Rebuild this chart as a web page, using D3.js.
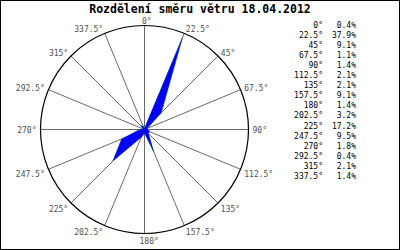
<!DOCTYPE html>
<html><head><meta charset="utf-8">
<script src="https://cdn.jsdelivr.net/npm/d3@7"></script>
<style>body{margin:0;background:#fff}svg{display:block}</style>
</head><body>
<script>
const title = "Rozdělení směru větru 18.04.2012";
const directions = [0, 22.5, 45, 67.5, 90, 112.5, 135, 157.5, 180, 202.5, 225, 247.5, 270, 292.5, 315, 337.5];
const directionLabels = ["0°","22.5°","45°","67.5°","90°","112.5°","135°","157.5°","180°","202.5°","225°","247.5°","270°","292.5°","315°","337.5°"];
const percents = [0.4, 37.9, 9.1, 1.1, 1.4, 2.1, 2.1, 9.1, 1.4, 3.2, 17.2, 9.5, 1.8, 0.4, 2.1, 1.4];
const scaleMax = 40;

const W = 400, H = 250;
const cx = 144.5, cy = 129.5, R = 104;
const mono = "'DejaVu Sans Mono', 'Liberation Mono', monospace";

const svg = d3.select("body").append("svg").attr("width", W).attr("height", H);
svg.append("rect").attr("x", 0.5).attr("y", 0.5).attr("width", W - 1).attr("height", H - 1)
  .attr("fill", "#fff").attr("stroke", "#000").attr("stroke-width", 1);

svg.append("text").attr("x", 200).attr("y", 13).attr("text-anchor", "middle")
  .attr("font-family", mono).attr("font-weight", "bold").attr("font-size", "11.5px")
  .attr("fill", "#000").text(title);

const rad = d => d * Math.PI / 180;
const r = d3.scaleLinear().domain([0, scaleMax]).range([0, R]);
const g = svg.append("g").attr("transform", `translate(${cx},${cy})`);

// spokes
g.selectAll("line.spoke").data(directions).join("line")
  .attr("x1", 0).attr("y1", 0)
  .attr("x2", d => d3.pointRadial(rad(d), R)[0])
  .attr("y2", d => d3.pointRadial(rad(d), R)[1])
  .attr("stroke", "#6a6a6a").attr("stroke-width", 1);

// rose polygon
const pts = directions.map((d, i) => ({a: rad(d), v: percents[i]}));
const radial = d3.lineRadial().angle(d => d.a).radius(d => r(d.v)).curve(d3.curveLinearClosed);
g.append("path").attr("d", radial(pts)).attr("fill", "none").attr("stroke", "#00cc00").attr("stroke-width", 0.5);
g.append("path").attr("d", radial(pts)).attr("fill", "#0000ff").attr("stroke", "#0000ff").attr("stroke-width", 0.3);

// circle
g.append("circle").attr("r", R).attr("fill", "none").attr("stroke", "#000").attr("stroke-width", 1.2);

// direction labels
g.selectAll("text.dir").data(directions).join("text")
  .attr("font-family", mono).attr("font-size", "8px").attr("fill", "#505050")
  .each(function(d, i) {
    const [x, y] = d3.pointRadial(rad(d), R + 4);
    const c = Math.cos(rad(d));
    let anchor = (d > 0 && d < 180) ? "start" : "end";
    let dx = 0;
    if (d === 0) { anchor = "start"; dx = -2.5; }
    if (d === 180) { anchor = "start"; dx = -5; }
    let dy;
    if (c > 0.5) dy = 2.5;
    else if (c >= -0.2) dy = 3;
    else dy = 6;
    d3.select(this).attr("x", x + dx).attr("y", y + dy).attr("text-anchor", anchor).text(directionLabels[i]);
  });

// legend
const fmt = d3.format(".1f");
const legend = svg.append("g");
const rowY = d3.scaleLinear().domain([0, directions.length - 1]).range([27.5, 179]);
directions.forEach((d, i) => {
  legend.append("text").attr("x", 323).attr("y", rowY(i)).attr("text-anchor", "end")
    .attr("font-family", mono).attr("font-size", "8px").attr("fill", "#000").text(directionLabels[i]);
  legend.append("text").attr("x", 356).attr("y", rowY(i)).attr("text-anchor", "end")
    .attr("font-family", mono).attr("font-size", "8px").attr("fill", "#000").text(fmt(percents[i]) + "%");
});
</script>
</body></html>
